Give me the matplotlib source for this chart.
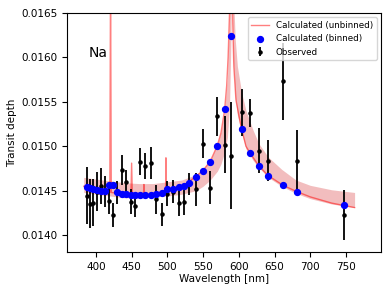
import numpy as np
import matplotlib
matplotlib.use("Agg")
import matplotlib.pyplot as plt

# observed transit depths (binned wavelength centres)
obs_wl = [386.9, 391.6, 396.3, 401.9, 407.0, 412.6, 418.2, 424.3, 429.9, 435.9,
          442.0, 448.5, 455.1, 462.1, 469.1, 476.5, 484.0, 491.9, 499.9, 508.3,
          516.7, 523.7, 530.7, 539.5, 549.3, 559.6, 569.9, 580.6, 589.0, 603.9,
          615.6, 628.2, 641.3, 662.3, 680.9, 747.2]
obs_depth = [0.014444, 0.014354, 0.014365, 0.014489, 0.014553, 0.014489, 0.014384,
             0.014226, 0.014478, 0.014734, 0.014602, 0.014376, 0.014331, 0.014828,
             0.014779, 0.014816, 0.014403, 0.014233, 0.014466, 0.014489, 0.014357,
             0.014369, 0.014572, 0.014516, 0.015027, 0.014534, 0.015336, 0.015016,
             0.014892, 0.015381, 0.015373, 0.014952, 0.014839, 0.015731, 0.014839,
             0.014226]
obs_err = [0.000320, 0.000273, 0.000263, 0.000220, 0.000198, 0.000173, 0.000145,
           0.000132, 0.000128, 0.000173, 0.000132, 0.000141, 0.000126, 0.000154,
           0.000150, 0.000179, 0.000160, 0.000132, 0.000141, 0.000132, 0.000141,
           0.000141, 0.000122, 0.000184, 0.000164, 0.000188, 0.000216, 0.000320,
           0.000602, 0.000263, 0.000158, 0.000254, 0.000231, 0.000432, 0.000344,
           0.000277]

# binned model at the same wavelengths
bin_depth = [0.014545, 0.014534, 0.014519, 0.014508, 0.014500, 0.014497, 0.014568,
             0.014561, 0.014482, 0.014466, 0.014459, 0.014455, 0.014451, 0.014448,
             0.014451, 0.014455, 0.014465, 0.014474, 0.014516, 0.014519, 0.014538,
             0.014553, 0.014590, 0.014651, 0.014726, 0.014828, 0.015008, 0.015418,
             0.016239, 0.015196, 0.014922, 0.014779, 0.014670, 0.014564, 0.014489,
             0.014339]

# unbinned model
model_wl = [383, 390, 400, 410, 419.5, 420.5, 421.5, 430, 440, 449, 450, 451, 460,
            466.5, 467.2, 468, 480, 490, 497.5, 498, 498.5, 510, 520, 530, 540, 550,
            560, 570, 575, 580, 583, 585, 587, 588.5, 590, 591.5, 593, 596, 600, 604,
            610, 616, 628, 641, 662, 681, 700, 730, 762]
model_depth = [0.01455, 0.01453, 0.01450, 0.01449, 0.01448, 0.01700, 0.01448,
               0.01447, 0.01446, 0.01445, 0.01481, 0.01445, 0.01445, 0.01445,
               0.01457, 0.01445, 0.01446, 0.01448, 0.01450, 0.01487, 0.01450,
               0.01452, 0.01455, 0.01460, 0.01466, 0.01473, 0.01483, 0.01501,
               0.01515, 0.01540, 0.01568, 0.01600, 0.01650, 0.01720, 0.01720,
               0.01640, 0.01590, 0.01552, 0.01535, 0.01519, 0.01500, 0.01492,
               0.01478, 0.01467, 0.01456, 0.01449, 0.01443, 0.01436, 0.01431]

# uncertainty band of the model
band_wl = [383, 400, 420, 440, 460, 480, 500, 520, 540, 550, 560, 570, 575, 580,
           584, 587, 589, 590.5, 592, 595, 598, 604, 610, 620, 628, 641, 660, 680,
           700, 730, 762]
band_lo = [0.01448, 0.01446, 0.01444, 0.01442, 0.01442, 0.01443, 0.01444, 0.01446,
           0.01450, 0.01455, 0.01462, 0.01472, 0.01480, 0.01493, 0.01510, 0.01545,
           0.01620, 0.01720, 0.01600, 0.01555, 0.01535, 0.01515, 0.01497, 0.01484,
           0.01476, 0.01465, 0.01455, 0.01447, 0.01441, 0.01435, 0.01431]
band_hi = [0.01465, 0.01463, 0.01461, 0.01459, 0.01458, 0.01458, 0.01460, 0.01462,
           0.01468, 0.01474, 0.01484, 0.01502, 0.01516, 0.01540, 0.01575, 0.01650,
           0.01720, 0.01720, 0.01680, 0.01620, 0.01590, 0.01560, 0.01540, 0.01518,
           0.01503, 0.01488, 0.01474, 0.01462, 0.01456, 0.01451, 0.01448]

fig = plt.figure(figsize=(3.9, 2.93), dpi=100)
ax = fig.add_axes([0.1726, 0.140, 0.8044, 0.8156])

ax.fill_between(band_wl, band_lo, band_hi, color='#d62728', alpha=0.3, lw=0)
ln, = ax.plot(model_wl, model_depth, color='red', alpha=0.5, lw=1,
              label='Calculated (unbinned)')
eb = ax.errorbar(obs_wl, obs_depth, yerr=obs_err, fmt='.', color='k', ms=4.5,
                 elinewidth=1.3, capsize=0, label='Observed')
sc = ax.scatter(obs_wl, bin_depth, s=18, color='blue', zorder=3,
                label='Calculated (binned)')

ax.text(390, 0.01605, 'Na', fontsize=10, va='center')

ax.set_xlim(360, 799)
ax.set_ylim(0.01381, 0.0165)
ax.set_xticks(np.arange(400, 751, 50))
ax.set_yticks([0.0140, 0.0145, 0.0150, 0.0155, 0.0160, 0.0165])
ax.yaxis.set_major_formatter(matplotlib.ticker.FormatStrFormatter('%.4f'))
ax.tick_params(labelsize=7.5)
ax.set_xlabel('Wavelength [nm]', fontsize=7.5, labelpad=2)
ax.set_ylabel('Transit depth', fontsize=7.5, labelpad=3)

ax.legend(handles=[ln, sc, eb], loc='upper right', fontsize=6.3)

fig.savefig('out.png', dpi=100)
